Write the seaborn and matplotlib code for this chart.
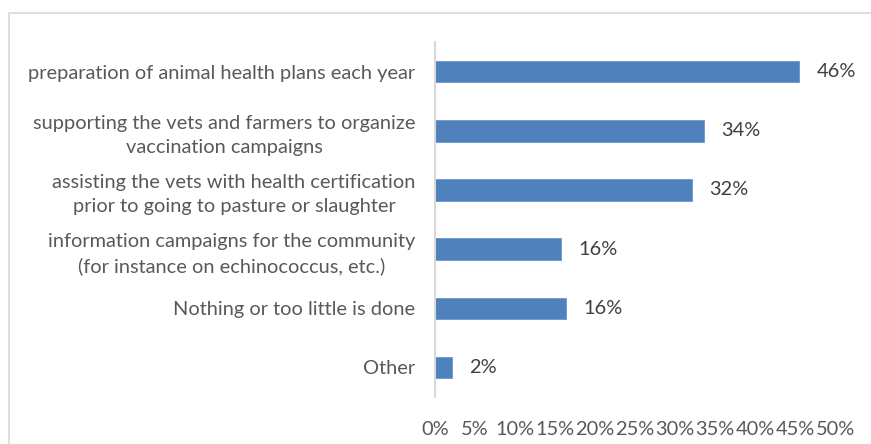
import pandas as pd
import seaborn as sns
import matplotlib.pyplot as plt
from matplotlib.patches import Rectangle

# dane z wykresu
categories = [
    "preparation of animal health plans each year",
    "supporting the vets and farmers to organize\nvaccination campaigns",
    "assisting the vets with health certification\nprior to going to pasture or slaughter",
    "information campaigns for the community\n(for instance on echinococcus, etc.)",
    "Nothing or too little is done",
    "Other",
]
values = [45.5, 33.6, 32.1, 15.7, 16.4, 2.1]
value_labels = ["46%", "34%", "32%", "16%", "16%", "2%"]
x_ticks = [0, 5, 10, 15, 20, 25, 30, 35, 40, 45, 50]

df = pd.DataFrame({"kategoria": categories, "procent": values})

sns.set_style("white")
plt.rcParams["font.family"] = ["Lato", "DejaVu Sans"]
fs = 14.4

fig = plt.figure(figsize=(8.71, 4.44), dpi=100)
ax = fig.add_axes([0.4995, 0.106, 0.4595, 0.799])

sns.barplot(data=df, x="procent", y="kategoria", orient="h", color="#4F81BD",
            width=0.36, saturation=1, edgecolor="#6A94CA", linewidth=0.6, ax=ax)

ax.bar_label(ax.containers[0], labels=value_labels, padding=12.5,
             fontsize=fs, color="#404040")

ax.set_xlim(0, 50)
ax.set_xticks(x_ticks)
ax.set_xticklabels([f"{t}%" for t in x_ticks])
ax.set_xlabel("")
ax.set_ylabel("")
ax.tick_params(axis="x", length=0, labelsize=fs, labelcolor="#595959", pad=17)
ax.tick_params(axis="y", length=0, labelsize=fs, labelcolor="#595959", pad=14)
for lbl in ax.get_yticklabels():
    lbl.set_multialignment("center")
    lbl.set_linespacing(1.5)

for side in ["top", "right", "bottom"]:
    ax.spines[side].set_visible(False)
ax.spines["left"].set_color("#D9D9D9")
ax.spines["left"].set_linewidth(1.5)

# ramka wokol wykresu (prawa i dolna krawedz poza obrazkiem)
fig.patches.append(Rectangle((0.0105, -0.05), 1.1, 1.021, transform=fig.transFigure,
                             fill=False, edgecolor="#D9D9D9", linewidth=1.2))

fig.savefig("out.png", dpi=100)
